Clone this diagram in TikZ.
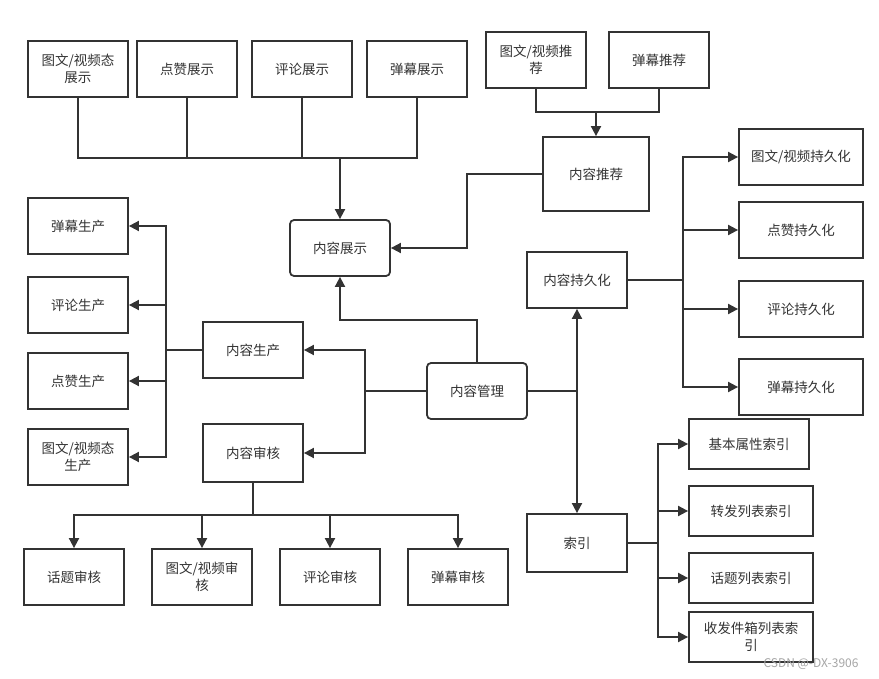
\documentclass[tikz,border=0pt]{standalone}
\usepackage{fontspec}
\setmainfont{Noto Sans CJK SC}
\usetikzlibrary{arrows.meta}
\definecolor{ink}{HTML}{333333}
\tikzset{
  x=1pt, y=-1pt,
  box/.style={draw=ink, line width=1.8pt, fill=white, text=ink, align=center,
    inner sep=2pt, font=\fontsize{13.5}{16.5}\selectfont},
  rbox/.style={box, rounded corners=4pt},
  wire/.style={draw=ink, line width=1.8pt},
  arr/.style={wire, -{Triangle[length=10pt,width=10pt]}},
}
\begin{document}
\begin{tikzpicture}
\useasboundingbox[fill=white] (0,0) rectangle (879,679);

% display group
\node[box, minimum width=100pt, minimum height=56pt] (d1) at (78,69) {图文/视频态\\展示};
\node[box, minimum width=100pt, minimum height=56pt] (d2) at (187,69) {点赞展示};
\node[box, minimum width=100pt, minimum height=56pt] (d3) at (302,69) {评论展示};
\node[box, minimum width=100pt, minimum height=56pt] (d4) at (417,69) {弹幕展示};
\node[rbox, minimum width=100pt, minimum height=56pt] (show) at (340,248) {内容展示};

% recommendation group
\node[box, minimum width=100pt, minimum height=56pt] (r1) at (536,60) {图文/视频推\\荐};
\node[box, minimum width=100pt, minimum height=56pt] (r2) at (659,60) {弹幕推荐};
\node[box, minimum width=106pt, minimum height=74pt] (rec) at (596,174) {内容推荐};

% persistence group
\node[box, minimum width=100pt, minimum height=56pt] (persist) at (577,280) {内容持久化};
\node[box, minimum width=124pt, minimum height=56pt] (p1) at (801,157) {图文/视频持久化};
\node[box, minimum width=124pt, minimum height=56pt] (p2) at (801,230) {点赞持久化};
\node[box, minimum width=124pt, minimum height=56pt] (p3) at (801,309) {评论持久化};
\node[box, minimum width=124pt, minimum height=56pt] (p4) at (801,387) {弹幕持久化};

% management hub
\node[rbox, minimum width=100pt, minimum height=56pt] (mgmt) at (477,391) {内容管理};

% production group
\node[box, minimum width=100pt, minimum height=56pt] (prod) at (253,350) {内容生产};
\node[box, minimum width=100pt, minimum height=56pt] (g1) at (78,226) {弹幕生产};
\node[box, minimum width=100pt, minimum height=56pt] (g2) at (78,305) {评论生产};
\node[box, minimum width=100pt, minimum height=56pt] (g3) at (78,381) {点赞生产};
\node[box, minimum width=100pt, minimum height=56pt] (g4) at (78,457) {图文/视频态\\生产};

% audit group
\node[box, minimum width=100pt, minimum height=58pt] (audit) at (253,453) {内容审核};
\node[box, minimum width=100pt, minimum height=56pt] (a1) at (74,577) {话题审核};
\node[box, minimum width=100pt, minimum height=56pt] (a2) at (202,577) {图文/视频审\\核};
\node[box, minimum width=100pt, minimum height=56pt] (a3) at (330,577) {评论审核};
\node[box, minimum width=100pt, minimum height=56pt] (a4) at (458,577) {弹幕审核};

% index group
\node[box, minimum width=100pt, minimum height=58pt] (idx) at (577,543) {索引};
\node[box, minimum width=120pt, minimum height=50pt] (i1) at (749,444) {基本属性索引};
\node[box, minimum width=124pt, minimum height=50pt] (i2) at (751,511) {转发列表索引};
\node[box, minimum width=124pt, minimum height=50pt] (i3) at (751,578) {话题列表索引};
\node[box, minimum width=124pt, minimum height=50pt] (i4) at (751,637) {收发件箱列表索\\引};

% junction points
\coordinate (dBus) at (340,158);
\coordinate (rBus) at (596,112);
\coordinate (recJ) at (467,173);
\coordinate (pBus) at (683,280);
\coordinate (mTop) at (477,320);
\coordinate (mR) at (577,391);
\coordinate (mL) at (365,391);
\coordinate (gBus) at (166,350);
\coordinate (aBus) at (253,515);
\coordinate (iBus) at (658,543);

% display connectors
\draw[wire] (d1.south) |- (dBus) -| (d4.south);
\draw[wire] (d2.south) -- (d2.south |- dBus);
\draw[wire] (d3.south) -- (d3.south |- dBus);
\draw[arr] (dBus) -- (show.north);

% recommendation connectors
\draw[wire] (r1.south) |- (rBus) -| (r2.south);
\draw[arr] (rBus) -- (rBus |- rec.north);
\draw[arr] (rec.west) -- (recJ |- rec.west) |- (show.east);

% persistence connectors
\draw[wire] (persist.east) -- (pBus |- persist.east);
\draw[arr] (pBus) |- (p1.west);
\draw[arr] (pBus) |- (p2.west);
\draw[arr] (pBus) |- (p3.west);
\draw[arr] (pBus) |- (p4.west);

% management connectors
\draw[arr] (mgmt.north) -- (mTop) -| (show.south);
\draw[wire] (mgmt.east) -- (mR |- mgmt.east);
\draw[arr] (mR) -- (persist.south);
\draw[arr] (mR) -- (idx.north);
\draw[wire] (mgmt.west) -- (mL |- mgmt.west);
\draw[arr] (mL) |- (prod.east);
\draw[arr] (mL) |- (audit.east);

% production connectors
\draw[wire] (prod.west) -- (gBus |- prod.west);
\draw[arr] (gBus) |- (g1.east);
\draw[arr] (gBus) |- (g2.east);
\draw[arr] (gBus) |- (g3.east);
\draw[arr] (gBus) |- (g4.east);

% audit connectors
\draw[wire] (audit.south) -- (audit.south |- aBus);
\draw[arr] (aBus) -| (a1.north);
\draw[arr] (aBus) -| (a2.north);
\draw[arr] (aBus) -| (a3.north);
\draw[arr] (aBus) -| (a4.north);

% index connectors
\draw[wire] (idx.east) -- (iBus |- idx.east);
\draw[arr] (iBus) |- (i1.west);
\draw[arr] (iBus) |- (i2.west);
\draw[arr] (iBus) |- (i3.west);
\draw[arr] (iBus) |- (i4.west);

% footer mark
\node[text=black!35, font=\fontsize{12}{14}\selectfont, inner sep=0pt] (mark) at (811,664) {CSDN @-DX-3906};
\end{tikzpicture}
\end{document}
